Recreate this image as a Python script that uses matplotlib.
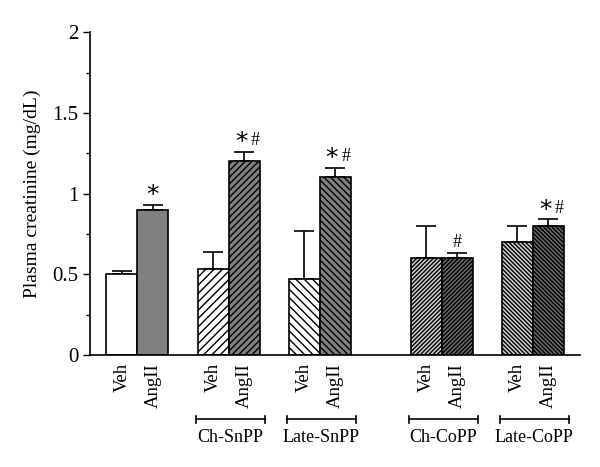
import matplotlib
matplotlib.use("Agg")
import matplotlib.pyplot as plt

plt.rcParams["font.family"] = ["Liberation Serif", "DejaVu Serif"]
plt.rcParams["hatch.linewidth"] = 1.0

# data
groups = ["", "Ch-SnPP", "Late-SnPP", "Ch-CoPP", "Late-CoPP"]
treat = ["Veh", "AngII"]
means = [0.50, 0.90, 0.53, 1.20, 0.47, 1.10, 0.60, 0.60, 0.70, 0.80]
errs = [0.02, 0.03, 0.11, 0.06, 0.30, 0.06, 0.20, 0.03, 0.10, 0.04]
marks = ["", "*", "", "*#", "", "*#", "", "#", "", "*#"]

# styling per bar
positions = [0, 1, 2.94, 3.94, 5.87, 6.87, 9.81, 10.81, 12.74, 13.74]
faces = ["white", "#808080", "white", "#808080", "white", "#808080",
         "#d0d0d0", "#6a6a6a", "#d0d0d0", "#6a6a6a"]
hatches = [None, None, "////", "/////", "\\\\\\\\", "\\\\\\\\\\",
           "////////", "////////", "\\\\\\\\\\\\\\\\", "\\\\\\\\\\\\\\\\"]

fig = plt.figure(figsize=(6.0, 4.67), dpi=100)
ax = fig.add_axes([0.15, 0.24, 0.817, 0.691])

for x, m, e, fc, h in zip(positions, means, errs, faces, hatches):
    ax.bar(x, m, width=1.0, color=fc, edgecolor="black", hatch=h,
           linewidth=1.2, zorder=2)
    ax.errorbar(x, m, yerr=[[0], [e]], fmt="none", ecolor="black",
                elinewidth=1.2, capsize=7, capthick=1.2, zorder=1)

for x, m, e, s in zip(positions, means, errs, marks):
    if not s:
        continue
    y = m + e + 0.09
    both = len(s) == 2
    if "*" in s:
        # the asterisk glyph sits high in its box, pull it down a little
        ax.text(x - (0.1 if both else 0), y - 0.03, "*", ha="center",
                va="center", fontsize=18, family="DejaVu Sans")
    if "#" in s:
        ax.text(x + (0.35 if both else 0), y - 0.022, "#", ha="center",
                va="center", fontsize=13)

ax.set_xlim(-1.03, 14.77)
ax.set_ylim(0, 2)
ax.set_yticks([0, 0.5, 1, 1.5, 2])
ax.set_yticklabels(["0", "0.5", "1", "1.5", "2"])
ax.set_yticks([0.25, 0.75, 1.25, 1.75], minor=True)
ax.tick_params(axis="y", which="major", direction="out", length=5,
               width=1.0, labelsize=15)
ax.tick_params(axis="y", which="minor", direction="out", length=3, width=1.0)
ax.set_ylabel("Plasma creatinine (mg/dL)", fontsize=14, labelpad=8)

ax.set_xticks(positions)
ax.set_xticklabels(treat * 5, rotation=90, fontsize=13.5)
ax.tick_params(axis="x", length=0, pad=6)

for sp in ["top", "right"]:
    ax.spines[sp].set_visible(False)
for sp in ["left", "bottom"]:
    ax.spines[sp].set_linewidth(1.2)

# group brackets under the tick labels
trans = ax.get_xaxis_transform()
for i, g in enumerate(groups):
    if not g:
        continue
    x0 = positions[2 * i] - 0.55
    x1 = positions[2 * i + 1] + 0.66
    yb = -0.2
    ax.plot([x0, x1], [yb, yb], color="black", lw=1.2, transform=trans,
            clip_on=False)
    for xx in (x0, x1):
        ax.plot([xx, xx], [yb - 0.012, yb + 0.012], color="black", lw=1.2,
                transform=trans, clip_on=False)
    ax.text((x0 + x1) / 2, yb - 0.03, g, ha="center", va="top",
            fontsize=13, transform=trans)

fig.savefig("out.png", dpi=100)
